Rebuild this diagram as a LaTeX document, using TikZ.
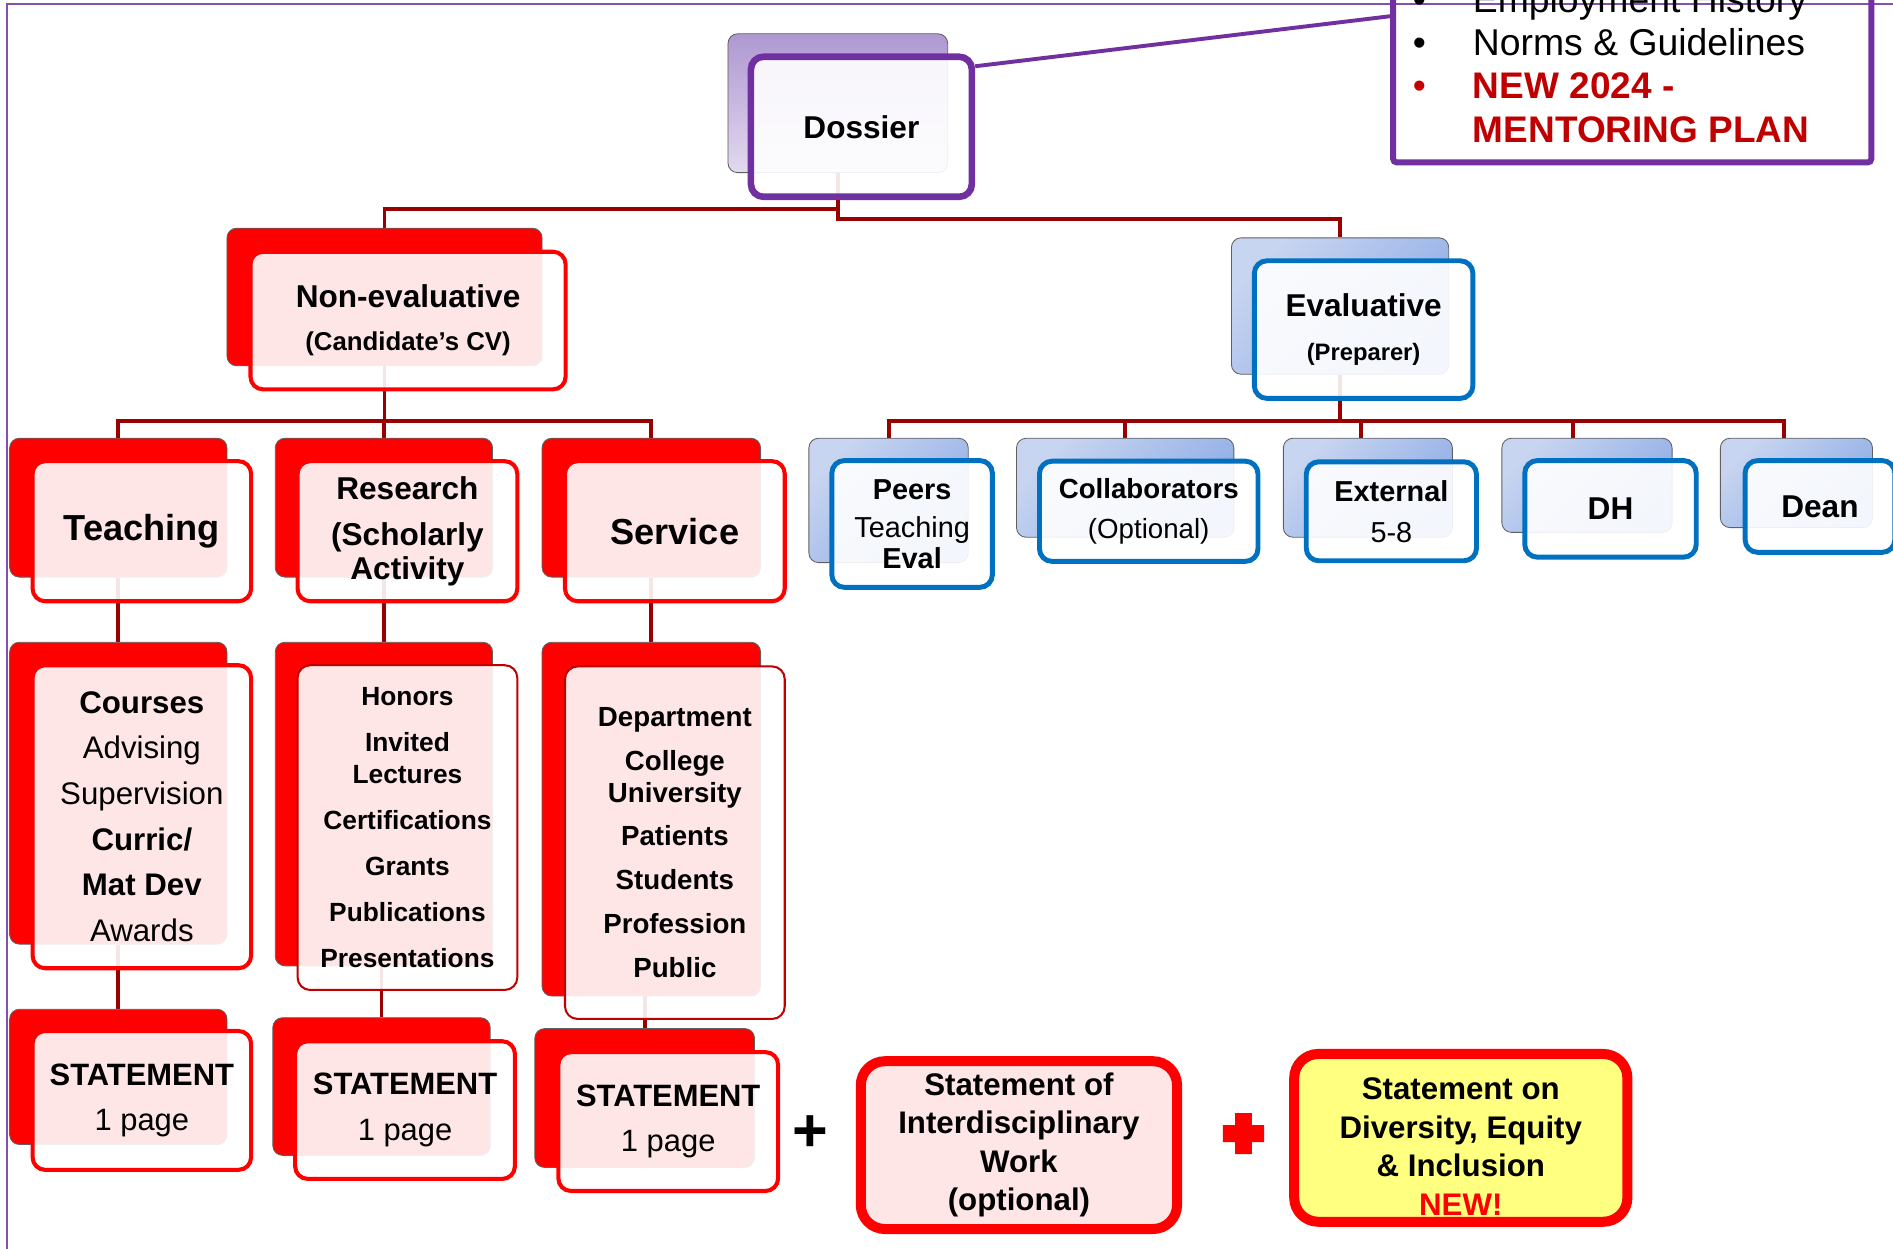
\documentclass[tikz,border=0pt]{standalone}
\usepackage{fontspec}
\setmainfont{Liberation Sans}
\pgfdeclarelayer{bg}
\pgfsetlayers{bg,main}
\definecolor{linkred}{RGB}{153,0,0}
\definecolor{purp}{RGB}{112,48,160}
\definecolor{purplt}{RGB}{226,217,239}
\definecolor{purpdk}{RGB}{174,152,209}
\definecolor{boxblue}{RGB}{0,112,192}
\definecolor{bluelt}{RGB}{200,213,240}
\definecolor{bluedk}{RGB}{141,171,230}
\definecolor{listred}{RGB}{192,0,0}
\definecolor{newred}{RGB}{192,0,0}
\definecolor{pinkfill}{RGB}{255,230,230}
\definecolor{deiyel}{RGB}{255,255,128}

\begin{document}
\begin{tikzpicture}[x=0.025cm,y=-0.025cm,
  sz/.style 2 args={minimum width=#1*0.025cm,minimum height=#2*0.025cm},
  back/.style={draw=gray!75!black,line width=0.5pt,rounded corners=0.2cm,inner sep=0pt},
  redback/.style={back,fill=red},
  blueback/.style={back,left color=bluelt,right color=bluedk,shading angle=45},
  purpback/.style={back,top color=purpdk,bottom color=purplt},
  front/.style={fill=white,fill opacity=0.9,text opacity=1,rounded corners=0.26cm,
    inner sep=1pt,align=center,shift={(19.5,19.5)}},
  redfront/.style={front,draw=red,line width=2.4pt},
  thinfront/.style={front,draw=listred,line width=1.2pt},
  bluefront/.style={front,draw=boxblue,line width=2.9pt},
  purpfront/.style={front,draw=purp,line width=3.9pt},
  link/.style={draw=linkred,line width=2.3pt},
  drop/.style={to path={-- ++(0,#1) -| (\tikztotarget)}},
  big/.style={font=\bfseries\fontsize{21.3}{26}\selectfont},
  mid/.style={font=\bfseries\fontsize{18.6}{#1}\selectfont},
  plate/.style={draw=red,line width=5.9pt,rounded corners=0.5cm,align=center,
    font=\bfseries\fontsize{18.4}{22.7}\selectfont}]

  \useasboundingbox (0,0) rectangle (1568,1034);
  \clip (0,0) rectangle (1568,1034);

  % top level
  \node[purpback,sz={182}{115}] (dos-b) at (694,85.5) {};
  \node[purpfront,sz={183}{116},mid=26] (dos) at (dos-b) {Dossier};
  \node[draw=purp,line width=3.5pt,rounded corners=2pt,sz={396}{200}] (notes) at (1352,34.5) {};
  \node[anchor=base west,inner sep=0pt,font=\fontsize{22}{25.6}\selectfont] (ntxt) at (1170,10)
    {\begin{tabular}[t]{@{}p{35.4pt}@{}l@{}}
      \textbullet & Employment History\\
      \textbullet & Norms \& Guidelines\\
      \textcolor{newred}{\textbullet} & \textcolor{newred}{\bfseries\fontsize{21.8}{25.6}\selectfont NEW 2024 -}\\
      & \textcolor{newred}{\bfseries\fontsize{21.8}{25.6}\selectfont MENTORING PLAN}
     \end{tabular}};

  % second level
  \node[redback,sz={261}{114}] (ne-b) at (318.5,246) {};
  \node[redfront,sz={261}{114},mid=25.5] (ne) at (ne-b)
    {Non-evaluative\\{\fontsize{15.2}{25.5}\selectfont (Candidate’s CV)}};
  \node[blueback,sz={180}{113}] (ev-b) at (1110,253.5) {};
  \node[bluefront,sz={181}{114},mid=26.2] (ev) at (ev-b)
    {Evaluative\\{\fontsize{14}{26.2}\selectfont (Preparer)}};

  % third level
  \node[redback,sz={180}{115}] (tch-b) at (98,420.5) {};
  \node[redfront,sz={181}{116},big] (tch) at (tch-b) {Teaching};
  \node[redback,sz={180}{115}] (res-b) at (318,420.5) {};
  \node[redfront,sz={182}{116},mid=19.8] (res) at (res-b) {Research\\[7.1pt](Scholarly\\Activity};
  \node[redback,sz={181}{115}] (srv-b) at (539.5,420.5) {};
  \node[redfront,sz={182}{116},big] (srv) at (srv-b) {Service};

  \node[blueback,sz={132}{103}] (peer-b) at (736,414.5) {};
  \node[bluefront,sz={133}{105},font=\bfseries\fontsize{17}{17.7}\selectfont] (peer) at (peer-b)
    {Peers\\[5pt]\mdseries Teaching\\Eval};
  \node[blueback,sz={180}{82}] (col-b) at (932,404) {};
  \node[bluefront,sz={181}{83},font=\bfseries\fontsize{16.3}{23.4}\selectfont] (col) at (col-b)
    {Collaborators\\\mdseries (Optional)};
  \node[blueback,sz={140}{82}] (ext-b) at (1133,404) {};
  \node[bluefront,sz={141}{82},font=\bfseries\fontsize{17}{24.1}\selectfont] (ext) at (ext-b)
    {External\\\mdseries 5-8};
  \node[blueback,sz={141}{78}] (dh-b) at (1314.5,402) {};
  \node[bluefront,sz={142}{80},mid=26] (dh) at (dh-b) {DH};
  \node[blueback,sz={126}{74}] (dean-b) at (1488,400) {};
  \node[bluefront,sz={124}{76},mid=26] (dean) at (dean-b) {Dean};

  % lists
  \node[redback,sz={180}{250}] (tl-b) at (98,657) {};
  \node[redfront,sz={181}{251},font=\fontsize{18.4}{26.9}\selectfont] (tl) at (tl-b)
    {\textbf{Courses}\\Advising\\Supervision\\\textbf{Curric/}\\\textbf{Mat Dev}\\Awards};
  \node[redback,sz={180}{268}] (rl-b) at (318,666) {};
  \node[thinfront,sz={182}{269},font=\bfseries\fontsize{15.5}{18.4}\selectfont] (rl) at (rl-b)
    {Honors\\[8.7pt]Invited\\Lectures\\[8.7pt]Certifications\\[8.7pt]Grants\\[8.7pt]Publications\\[8.7pt]Presentations};
  \node[redback,sz={181}{293}] (sl-b) at (539.5,678.5) {};
  \node[thinfront,sz={182}{292},font=\bfseries\fontsize{16.3}{18.4}\selectfont] (sl) at (sl-b)
    {Department\\[7.6pt]College\\University\\[7.4pt]Patients\\[7.4pt]Students\\[7.4pt]Profession\\[7.4pt]Public};

  % statements
  \node[redback,sz={180}{112}] (st1-b) at (98,892) {};
  \node[redfront,sz={181}{115},font=\bfseries\fontsize{18.2}{26.9}\selectfont] (st1) at (st1-b)
    {STATEMENT\\\mdseries 1 page};
  \node[redback,sz={180}{114}] (st2-b) at (316,900) {};
  \node[redfront,sz={182}{114},font=\bfseries\fontsize{18.2}{26.9}\selectfont] (st2) at (st2-b)
    {STATEMENT\\\mdseries 1 page};
  \node[redback,sz={182}{115}] (st3-b) at (534,909.5) {};
  \node[redfront,sz={182}{115},font=\bfseries\fontsize{18.2}{26.9}\selectfont] (st3) at (st3-b)
    {STATEMENT\\\mdseries 1 page};

  \node[inner sep=0pt,font=\bfseries\fontsize{36}{36}\selectfont] (plus1) at (671,939) {+};
  \node[plate,fill=pinkfill,sz={262}{139}] (inter) at (844,948.5)
    {Statement of\\Interdisciplinary\\Work\\(optional)};
  \fill[red] (1013,932) rectangle (1047,946) (1023,922) rectangle (1037,956);
  \node[plate,fill=deiyel,sz={276}{139}] (dei) at (1210,942.5)
    {\rule{0pt}{23pt}Statement on\\Diversity, Equity\\\& Inclusion\\\textcolor{red}{NEW!}};

  \begin{pgfonlayer}{bg}
    \fill[white] (0,0) rectangle (1568,1034);
    \draw[purp!85,line width=0.9pt] (6,1040) -- (6,3.3) -- (1570,3.3);
    \draw[purp,line width=2.3pt] (dos.28) -- (notes.174.7);
    \path (dos-b.south) edge[link,drop=30] (ne-b.north)
                        edge[link,drop=38] (ev-b.north)
          (ne-b.south)  edge[link,drop=45] (tch-b.north)
                        edge[link,drop=45] (res-b.north)
                        edge[link,drop=45] (srv-b.north)
          (ev-b.south)  edge[link,drop=38] (peer-b.north)
                        edge[link,drop=38] (col-b.north)
                        edge[link,drop=38] ([xshift=-0.15cm]ext-b.north)
                        edge[link,drop=38] ([xshift=-0.28cm]dh-b.north)
                        edge[link,drop=38] ([xshift=-0.25cm]dean-b.north)
          (tch-b.south) edge[link] (tl-b.north)
          (res-b.south) edge[link] (rl-b.north)
          (srv-b.south) edge[link] (sl-b.north)
          (tl-b.south)  edge[link] (st1-b.north)
          (st2-b.north) edge[link] (st2-b.north |- rl-b.south)
          (st3-b.north) edge[link] (st3-b.north |- sl-b.south);
  \end{pgfonlayer}
\end{tikzpicture}
\end{document}
